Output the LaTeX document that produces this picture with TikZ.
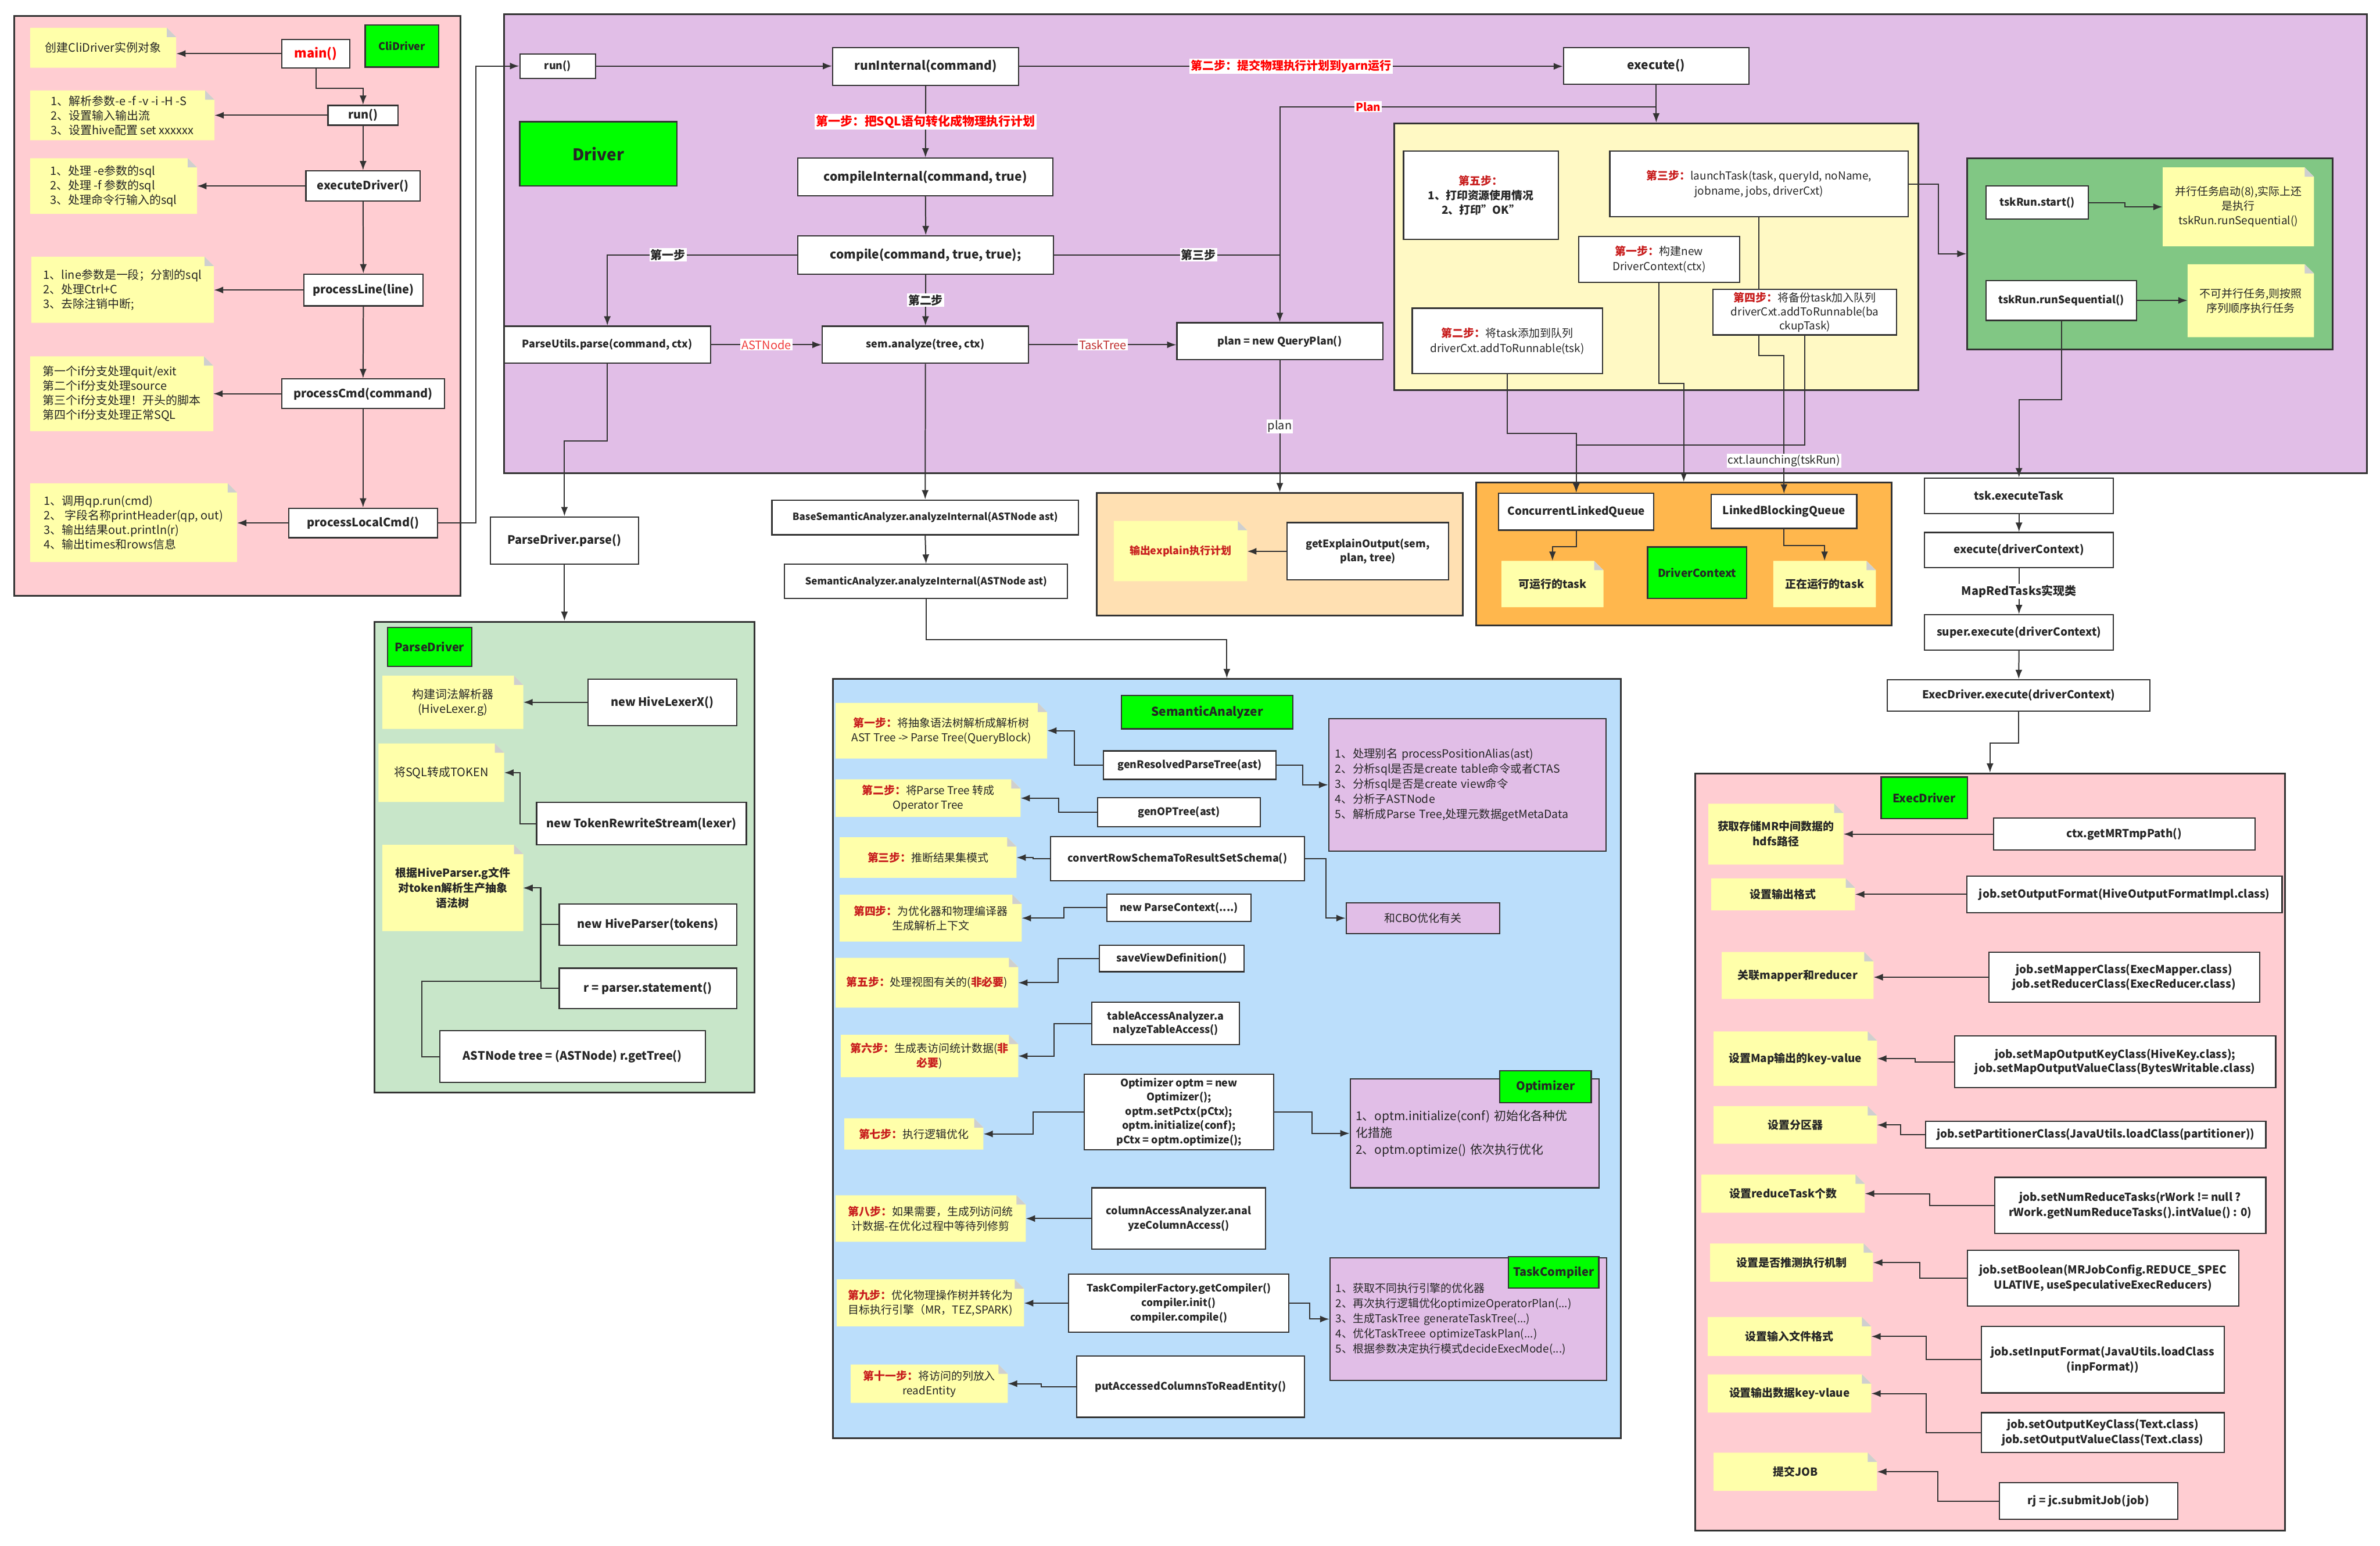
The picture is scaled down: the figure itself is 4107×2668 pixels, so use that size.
\documentclass[tikz,border=0pt]{standalone}
\usepackage{fontspec}
\setmainfont{Noto Sans CJK SC}
\usetikzlibrary{arrows.meta,calc}
\pgfdeclarelayer{bg}
\pgfdeclarelayer{mid}
\pgfsetlayers{bg,mid,main}
\definecolor{lc}{HTML}{333333}
\definecolor{pinkc}{HTML}{FFCDD2}
\definecolor{lav}{HTML}{E1BEE7}
\definecolor{pgreen}{HTML}{C8E6C9}
\definecolor{lblue}{HTML}{BBDEFB}
\definecolor{peach}{HTML}{FFE0B2}
\definecolor{orng}{HTML}{FFB74D}
\definecolor{lyel}{HTML}{FFF9C4}
\definecolor{mgreen}{HTML}{81C784}
\definecolor{glabc}{HTML}{00FF00}
\definecolor{ntfillc}{HTML}{FFFFAA}
\definecolor{foldc}{HTML}{CFCFCF}
\definecolor{stepred}{HTML}{C81E1E}
\definecolor{lblred}{HTML}{FF0000}
\definecolor{astred}{HTML}{F03C3C}
\definecolor{txt}{HTML}{262626}
\newcommand\fs[2]{\fontsize{#1}{#2}\selectfont}
\newcommand\stp[1]{\textcolor{stepred}{\bfseries #1}}
\newcommand\bx[7][]{\node[box,#1,minimum width={(#4)*1pt-(#2)*1pt},minimum height={(#5)*1pt-(#3)*1pt}] (#6) at ({((#2)+(#4))/2},{((#3)+(#5))/2}) {#7};}
\newcommand\nt[7][]{%
\fill[ntfillc] (#2,#3) -- ({(#4)-16},#3) -- (#4,{(#3)+16}) -- (#4,#5) -- (#2,#5) -- cycle;
\fill[foldc] ({(#4)-16},#3) -- (#4,{(#3)+16}) -- ({(#4)-16},{(#3)+16}) -- cycle;
\node[ntx,#1,minimum width={(#4)*1pt-(#2)*1pt},minimum height={(#5)*1pt-(#3)*1pt}] (#6) at ({((#2)+(#4))/2},{((#3)+(#5))/2}) {#7};}
\tikzset{
 box/.style={draw=lc,line width=2.2pt,fill=white,inner sep=2pt,align=center,text=txt,font=\fs{19}{24}\bfseries},
 ctr/.style={draw=lc,line width=3pt,inner sep=0pt},
 glab/.style={box,fill=glabc,line width=2.5pt,font=\fs{20}{24}\bfseries},
 ntx/.style={inner sep=2pt,align=center,text=txt,font=\fs{19}{25}},
 cnt/.style={ntx,align=left,font=\fs{20}{25}},
 arr/.style={draw=lc,line width=2pt,-{Latex[length=16pt,width=12pt]}},
 ln/.style={draw=lc,line width=2pt},
 lab/.style={fill=white,inner sep=2pt,text=txt,font=\fs{20}{24}\bfseries},
}
\begin{document}
\begin{tikzpicture}[x=1pt,y=-1pt]
\begin{pgfonlayer}{bg}
\fill[white] (0,0) rectangle (4107,2668);
\bx[ctr,fill=pinkc]{25}{28}{795}{1028}{cliC}{}
\bx[ctr,fill=lav]{870}{25}{4084}{817}{drvC}{}
\bx[ctr,fill=lyel]{2406}{213}{3310}{673}{yelC}{}
\bx[ctr,fill=mgreen]{3395}{273}{4025}{603}{grnC}{}
\bx[ctr,fill=peach]{1893}{851}{2524}{1062}{expC}{}
\bx[ctr,fill=orng]{2547}{833}{3264}{1079}{orgC}{}
\bx[ctr,fill=pgreen]{646}{1073}{1302}{1886}{pdC}{}
\bx[ctr,fill=lblue]{1437}{1172}{2797}{2482}{semC}{}
\bx[ctr,fill=pinkc]{2925}{1335}{3943}{2642}{exC}{}
\end{pgfonlayer}
\useasboundingbox (0,0) rectangle (4107,2668);

% ---------- CliDriver
\bx[glab,font=\fs{18}{22}\bfseries]{630}{43}{757}{116}{cliL}{CliDriver}
\bx[text=lblred,font=\fs{22}{26}\bfseries]{486}{68}{604}{117}{main}{main()}
\bx[font=\fs{20}{24}\bfseries]{566}{182}{687}{216}{run1}{run()}
\bx[font=\fs{20}{24}\bfseries]{528}{295}{725}{347}{exd}{executeDriver()}
\bx[font=\fs{20}{24}\bfseries]{524}{473}{730}{528}{pl}{processLine(line)}
\bx[font=\fs{20}{24}\bfseries]{486}{654}{767}{705}{pc}{processCmd(command)}
\bx[font=\fs{20}{24}\bfseries]{498}{877}{755}{928}{plc}{processLocalCmd()}
\nt[cnt]{52}{48}{304}{117}{c1}{创建CliDriver实例对象}
\nt[cnt]{52}{156}{370}{242}{c2}{1、解析参数-e -f -v -i -H -S\\2、设置输入输出流\\3、设置hive配置 set xxxxxx}
\nt[cnt]{52}{273}{340}{369}{c3}{1、处理 -e参数的sql\\2、处理 -f 参数的sql\\3、处理命令行输入的sql}
\nt[cnt]{54}{443}{369}{557}{c4}{1、line参数是一段；分割的sql\\2、处理Ctrl+C\\3、去除注销中断;}
\nt[cnt]{52}{615}{368}{744}{c5}{第一个if分支处理quit/exit\\第二个if分支处理source\\第三个if分支处理！开头的脚本\\第四个if分支处理正常SQL}
\nt[cnt]{52}{834}{409}{970}{c6}{1、调用qp.run(cmd)\\2、 字段名称printHeader(qp, out)\\3、输出结果out.println(r)\\4、输出times和rows信息}

% ---------- Driver
\bx[glab,font=\fs{28}{32}\bfseries]{897}{210}{1168}{321}{drvL}{Driver}
\bx[font=\fs{18}{22}\bfseries]{897}{93}{1028}{135}{drun}{run()}
\bx[font=\fs{21}{25}\bfseries]{1437}{82}{1758}{147}{ri}{runInternal(command)}
\bx[font=\fs{21}{25}\bfseries]{2698}{82}{3018}{145}{exe}{execute()}
\bx[font=\fs{21}{25}\bfseries]{1377}{273}{1817}{338}{ci}{compileInternal(command, true)}
\bx[font=\fs{21}{25}\bfseries]{1377}{407}{1818}{473}{cp}{compile(command, true, true);}
\bx[font=\fs{18}{22}\bfseries]{870}{563}{1226}{627}{pu}{ParseUtils.parse(command, ctx)}
\bx[font=\fs{18}{22}\bfseries]{1419}{563}{1775}{627}{sa}{sem.analyze(tree, ctx)}
\bx[font=\fs{18}{22}\bfseries]{2031}{557}{2386}{621}{qp}{plan = new QueryPlan()}

\bx[font=\fs{19}{25}\bfseries]{2422}{261}{2689}{413}{y5}{\stp{第五步：}\\1、打印资源使用情况\\2、打印"OK"}
\bx[font=\fs{19}{26}]{2778}{261}{3293}{374}{y3}{\stp{第三步：}launchTask(task, queryId, noName,\\jobname, jobs, driverCxt)}
\bx[font=\fs{19}{26}]{2724}{408}{3002}{487}{y1}{\stp{第一步：}构建new\\DriverContext(ctx)}
\bx[font=\fs{19}{24}]{2956}{499}{3273}{578}{y4}{\stp{第四步：}将备份task加入队列\\driverCxt.addToRunnable(ba\\ckupTask)}
\bx[font=\fs{19}{26}]{2437}{532}{2765}{645}{y2}{\stp{第二步：}将task添加到队列\\driverCxt.addToRunnable(tsk)}

\bx[font=\fs{18}{22}\bfseries]{3427}{321}{3604}{378}{tst}{tskRun.start()}
\bx[font=\fs{18}{22}\bfseries]{3427}{484}{3687}{553}{trs}{tskRun.runSequential()}
\nt{3732}{289}{3993}{425}{n1}{并行任务启动(8),实际上还\\是执行\\tskRun.runSequential()}
\nt{3775}{456}{3993}{582}{n2}{不可并行任务,则按照\\序列顺序执行任务}

% ---------- queues / explain
\bx[font=\fs{19}{23}\bfseries]{2586}{851}{2854}{915}{clq}{ConcurrentLinkedQueue}
\bx[font=\fs{19}{23}\bfseries]{2953}{853}{3204}{912}{lbq}{LinkedBlockingQueue}
\nt[font=\fs{19}{24}\bfseries]{2591}{968}{2767}{1048}{nq1}{可运行的task}
\bx[glab,font=\fs{19}{23}\bfseries]{2843}{944}{3014}{1033}{dctx}{DriverContext}
\nt[font=\fs{19}{24}\bfseries]{3060}{968}{3237}{1048}{nq2}{正在运行的task}
\nt[text=stepred,font=\fs{18}{22}\bfseries]{1922}{899}{2152}{1003}{nex}{输出explain执行计划}
\bx[font=\fs{18}{24}\bfseries]{2221}{902}{2500}{1001}{gex}{getExplainOutput(sem,\\plan, tree)}
\bx[font=\fs{17}{21}\bfseries]{1332}{863}{1861}{923}{bsa}{BaseSemanticAnalyzer.analyzeInternal(ASTNode ast)}
\bx[font=\fs{17}{21}\bfseries]{1354}{974}{1842}{1033}{sema}{SemanticAnalyzer.analyzeInternal(ASTNode ast)}

% ---------- right column
\bx[font=\fs{19}{23}\bfseries]{3321}{825}{3647}{886}{tet}{tsk.executeTask}
\bx[font=\fs{19}{23}\bfseries]{3321}{919}{3647}{980}{exc}{execute(driverContext)}
\bx[font=\fs{19}{23}\bfseries]{3321}{1061}{3647}{1122}{sup}{super.execute(driverContext)}
\bx[font=\fs{19}{23}\bfseries]{3257}{1173}{3710}{1227}{edx}{ExecDriver.execute(driverContext)}

% ---------- ParseDriver
\bx[font=\fs{20}{24}\bfseries]{846}{892}{1102}{974}{pdp}{ParseDriver.parse()}
\bx[glab]{669}{1083}{814}{1150}{pdL}{ParseDriver}
\nt[font=\fs{20}{25}]{660}{1166}{903}{1258}{pn1}{构建词法解析器\\(HiveLexer.g)}
\bx[font=\fs{20}{24}\bfseries]{1015}{1172}{1271}{1252}{lex}{new HiveLexerX()}
\nt[font=\fs{20}{25}]{653}{1283}{870}{1384}{pn2}{将SQL转成TOKEN}
\bx[font=\fs{20}{24}\bfseries]{926}{1385}{1288}{1458}{trs2}{new TokenRewriteStream(lexer)}
\nt[font=\fs{19}{26}\bfseries]{660}{1458}{903}{1607}{pn3}{根据HiveParser.g文件\\对token解析生产抽象\\语法树}
\bx[font=\fs{20}{24}\bfseries]{965}{1560}{1271}{1631}{hp}{new HiveParser(tokens)}
\bx[font=\fs{20}{24}\bfseries]{965}{1671}{1271}{1741}{rps}{r = parser.statement()}
\bx[font=\fs{20}{24}\bfseries]{759}{1779}{1217}{1868}{astn}{ASTNode tree = (ASTNode) r.getTree()}

% ---------- SemanticAnalyzer
\bx[glab,font=\fs{21}{25}\bfseries]{1935}{1200}{2231}{1258}{semL}{SemanticAnalyzer}
\bx[font=\fs{18}{23}\bfseries]{1904}{1296}{2202}{1345}{grpt}{genResolvedParseTree(ast)}
\bx[font=\fs{18}{23}\bfseries]{1894}{1377}{2175}{1427}{gop}{genOPTree(ast)}
\bx[font=\fs{18}{23}\bfseries]{1813}{1444}{2251}{1520}{crs}{convertRowSchemaToResultSetSchema()}
\bx[font=\fs{18}{23}\bfseries]{1910}{1543}{2159}{1590}{npc}{new ParseContext(....)}
\bx[font=\fs{18}{23}\bfseries]{1897}{1631}{2147}{1677}{svd}{saveViewDefinition()}
\bx[font=\fs{18}{24}\bfseries]{1884}{1730}{2139}{1803}{tac}{tableAccessAnalyzer.a\\nalyzeTableAccess()}
\bx[font=\fs{18}{24.5}\bfseries]{1871}{1854}{2198}{1984}{opt}{Optimizer optm = new\\Optimizer();\\optm.setPctx(pCtx);\\optm.initialize(conf);\\pCtx = optm.optimize();}
\bx[font=\fs{18}{25}\bfseries]{1884}{2050}{2184}{2156}{caa}{columnAccessAnalyzer.anal\\yzeColumnAccess()}
\bx[font=\fs{17.5}{25}\bfseries]{1844}{2199}{2224}{2299}{tcf}{TaskCompilerFactory.getCompiler()\\compiler.init()\\compiler.compile()}
\bx[font=\fs{18}{23}\bfseries]{1858}{2340}{2251}{2446}{pac}{putAccessedColumnsToReadEntity()}
\bx[fill=lav,align=left,text width=456pt,font=\fs{19.5}{26}]{2293}{1240}{2771}{1469}{lst}{1、处理别名 processPositionAlias(ast)\\2、分析sql是否是create table命令或者CTAS\\3、分析sql是否是create view命令\\4、分析子ASTNode\\5、解析成Parse Tree,处理元数据getMetaData}
\bx[fill=lav,font=\fs{19}{23}]{2323}{1558}{2588}{1611}{cbo}{和CBO优化有关}
\bx[fill=lav,align=left,text width=410pt,font=\fs{21}{29}]{2330}{1862}{2759}{2050}{optp}{1、optm.initialize(conf) 初始化各种优\\化措施\\2、optm.optimize() 依次执行优化}
\bx[glab]{2588}{1848}{2746}{1903}{optL}{Optimizer}
\bx[fill=lav,align=left,text width=457pt,font=\fs{19}{26}]{2295}{2171}{2772}{2382}{tcp}{1、获取不同执行引擎的优化器\\2、再次执行逻辑优化optimizeOperatorPlan(...)\\3、生成TaskTree generateTaskTree(...)\\4、优化TaskTreee optimizeTaskPlan(...)\\5、根据参数决定执行模式decideExecMode(...)}
\bx[glab]{2603}{2169}{2759}{2223}{tcL}{TaskCompiler}
\nt{1442}{1213}{1807}{1309}{s1}{\stp{第一步：}将抽象语法树解析成解析树\\AST Tree -> Parse Tree(QueryBlock)}
\nt{1442}{1345}{1761}{1410}{s2}{\stp{第二步：}将Parse Tree 转成\\Operator Tree}
\nt{1449}{1445}{1754}{1515}{s3}{\stp{第三步：}推断结果集模式}
\nt{1449}{1544}{1763}{1625}{s4}{\stp{第四步：}为优化器和物理编译器\\生成解析上下文}
\nt{1442}{1653}{1757}{1739}{s5}{\stp{第五步：}处理视图有关的(\stp{非必要})}
\nt{1451}{1786}{1757}{1859}{s6}{\stp{第六步：}生成表访问统计数据(\stp{非}\\\stp{必要})}
\nt{1457}{1930}{1697}{1984}{s7}{\stp{第七步：}执行逻辑优化}
\nt{1442}{2063}{1770}{2143}{s8}{\stp{第八步：}如果需要，生成列访问统\\计数据-在优化过程中等待列修剪}
\nt{1444}{2208}{1767}{2289}{s9}{\stp{第九步：}优化物理操作树并转化为\\目标执行引擎（MR，TEZ,SPARK)}
\nt{1468}{2355}{1739}{2421}{s11}{\stp{第十一步：}将访问的列放入\\readEntity}

% ---------- ExecDriver
\bx[glab]{3246}{1341}{3395}{1413}{exL}{ExecDriver}
\nt[font=\fs{19}{26}\bfseries]{2948}{1387}{3181}{1492}{e1}{获取存储MR中间数据的\\hdfs路径}
\nt[font=\fs{19}{26}\bfseries]{2953}{1516}{3201}{1571}{e2}{设置输出格式}
\nt[font=\fs{19}{26}\bfseries]{2971}{1643}{3233}{1724}{e3}{关联mapper和reducer}
\nt[font=\fs{19}{26}\bfseries]{2957}{1780}{3239}{1874}{e4}{设置Map输出的key-value}
\nt[font=\fs{19}{26}\bfseries]{2957}{1909}{3239}{1974}{e5}{设置分区器}
\nt[font=\fs{19}{26}\bfseries]{2936}{2027}{3218}{2093}{e6}{设置reduceTask个数}
\nt[font=\fs{19}{26}\bfseries]{2951}{2146}{3232}{2212}{e7}{设置是否推测执行机制}
\nt[font=\fs{19}{26}\bfseries]{2947}{2273}{3229}{2340}{e8}{设置输入文件格式}
\nt[font=\fs{19}{26}\bfseries]{2947}{2372}{3229}{2438}{e9}{设置输出数据key-vlaue}
\nt[font=\fs{19}{26}\bfseries]{2957}{2507}{3239}{2573}{e10}{提交JOB}
\bx[font=\fs{19}{25}\bfseries]{3440}{1412}{3891}{1467}{eb1}{ctx.getMRTmpPath()}
\bx[font=\fs{19}{25}\bfseries]{3394}{1512}{3938}{1575}{eb2}{job.setOutputFormat(HiveOutputFormatImpl.class)}
\bx[font=\fs{19}{25}\bfseries]{3432}{1643}{3899}{1730}{eb3}{job.setMapperClass(ExecMapper.class)\\job.setReducerClass(ExecReducer.class)}
\bx[font=\fs{19}{25}\bfseries]{3373}{1788}{3927}{1877}{eb4}{job.setMapOutputKeyClass(HiveKey.class);\\job.setMapOutputValueClass(BytesWritable.class)}
\bx[font=\fs{19}{25}\bfseries]{3323}{1935}{3910}{1981}{eb5}{job.setPartitionerClass(JavaUtils.loadClass(partitioner))}
\bx[font=\fs{19}{26}\bfseries]{3442}{2032}{3910}{2129}{eb6}{job.setNumReduceTasks(rWork != null ?\\rWork.getNumReduceTasks().intValue() : 0)}
\bx[font=\fs{19}{26}\bfseries]{3395}{2158}{3863}{2254}{eb7}{job.setBoolean(MRJobConfig.REDUCE\_SPEC\\ULATIVE, useSpeculativeExecReducers)}
\bx[font=\fs{19}{26}\bfseries]{3419}{2289}{3838}{2404}{eb8}{job.setInputFormat(JavaUtils.loadClass\\(inpFormat))}
\bx[font=\fs{19}{26}\bfseries]{3419}{2438}{3838}{2507}{eb9}{job.setOutputKeyClass(Text.class)\\job.setOutputValueClass(Text.class)}
\bx[font=\fs{19}{25}\bfseries]{3450}{2559}{3758}{2622}{eb10}{rj = jc.submitJob(job)}

% ---------- connectors
\begin{pgfonlayer}{mid}
\draw[arr] (main.west) -- (main.west -| c1.east);
\draw[arr] (main.south) -- ++(0,34) -| (run1.north);
\draw[arr] (run1.west) -- (run1.west -| c2.east);
\draw[arr] (run1.south) -- (exd.north);
\draw[arr] (exd.west) -- (exd.west -| c3.east);
\draw[arr] (exd.south) -- (pl.north);
\draw[arr] (pl.west) -- (pl.west -| c4.east);
\draw[arr] (pl.south) -- (pc.north);
\draw[arr] (pc.west) -- (pc.west -| c5.east);
\draw[arr] (pc.south) -- (plc.north);
\draw[arr] (plc.west) -- (plc.west -| c6.east);
\draw[arr] (plc.east) -- ++(65,0) |- (drun.west);

\draw[arr] (drun.east) -- (drun.east -| ri.west);
\draw[arr] (ri.east) -- node[lab,text=lblred]{第二步：提交物理执行计划到yarn运行} (ri.east -| exe.west);
\draw[arr] (ri.south) -- node[lab,text=lblred,font=\fs{21}{25}\bfseries]{第一步：把SQL语句转化成物理执行计划} (ci.north);
\draw[arr] (ci.south) -- (cp.north);
\draw[arr] (cp.west) -| node[lab,pos=0.34]{第一步} (pu.north);
\draw[arr] (cp.south) -- node[lab]{第二步} (sa.north);
\draw[arr] (cp.east) -| node[lab,pos=0.32]{第三步} (qp.north);
\coordinate (pk) at ($(exe.south)+(0,38)$);
\draw[ln] (qp.north |- cp.east) -- (qp.north |- pk) -- node[lab,pos=0.235,text=lblred,font=\fs{19}{23}\bfseries]{Plan} (pk);
\draw[arr] (exe.south) -- (yelC.north);
\draw[arr] (pu.east) -- node[lab,text=astred,font=\fs{20}{24}]{ASTNode} (sa.west);
\draw[arr] (sa.east) -- node[lab,text=astred!80!black,font=\fs{20}{24}]{TaskTree} (sa.east -| qp.west);
\draw[arr] (qp.south) -- node[lab,font=\fs{20}{24}]{plan} (expC.north);
\draw[arr] (pu.south) -- ++(0,133) -| (pdp.north);
\draw[arr] (sa.south) -- (bsa.north);
\draw[arr] (bsa.south) -- (sema.north);
\draw[arr] (sema.south) -- ++(0,70) -| (semC.north);

\draw[arr] (y3.east) -- ++(51,0) |- (grnC.west);
\draw[arr] (tst.east) -- ++(62,0) |- (n1.west);
\draw[arr] (trs.east) -- (trs.east -| n2.west);
\draw[arr] (trs.south) -- ++(0,136) -| (tet.north);
\draw[arr] (y2.south) -- ++(0,102) -| (clq.north);
\draw[arr] (y4.south) -- ++(0,189) -| (clq.north);
\draw[arr] (y3.south) -- ++(0,239) -| node[lab,pos=0.88,font=\fs{19}{23}]{cxt.launching(tskRun)} (lbq.north);
\draw[arr] (y1.south) -- ++(0,174) -| (orgC.north);
\draw[arr] (clq.south) -- ++(0,27) -| (nq1.north);
\draw[arr] (lbq.south) -- ++(0,28) -| (nq2.north);
\draw[arr] (gex.west) -- (gex.west -| nex.east);

\draw[arr] (tet.south) -- (exc.north);
\draw[arr] (exc.south) -- node[lab]{MapRedTasks实现类} (sup.north);
\draw[arr] (sup.south) -- (edx.north);
\draw[arr] (edx.south) -- ++(0,54) -| (exC.north);

\draw[arr] (pdp.south) -- (pdC.north);
\draw[arr] (lex.west) -- (lex.west -| pn1.east);
\draw[arr] (trs2.west) -- ++(-28,0) |- (pn2.east);
\draw[arr] (hp.west) -- ++(-31,0) |- (pn3.east);
\draw[arr] (rps.west) -- ++(-30,0) |- (pn3.east);
\draw[arr] (astn.west) -- ++(-30,0) -- ++(0,-130) -- ++(205,0) |- (pn3.east);

\draw[arr] (grpt.west) -- ++(-49,0) |- (s1.east);
\draw[arr] (grpt.east) -- ++(45,0) |- (lst.west);
\draw[arr] (gop.west) -- ++(-66,0) |- (s2.east);
\draw[arr] (crs.west) -- ++(-29,0) |- (s3.east);
\draw[arr] (crs.east) -- ++(36,0) |- (cbo.west);
\draw[arr] (npc.west) -- ++(-73,0) |- (s4.east);
\draw[arr] (svd.west) -- ++(-70,0) |- (s5.east);
\draw[arr] (tac.west) -- ++(-64,0) |- (s6.east);
\draw[arr] (opt.west) -- ++(-87,0) |- (s7.east);
\draw[arr] (opt.east) -- ++(65,0) |- (optp.west);
\draw[arr] (caa.west) -- (caa.west -| s8.east);
\draw[arr] (tcf.west) -- (tcf.west -| s9.east);
\draw[arr] (tcf.east) -- ++(35,0) |- (tcp.west);
\draw[arr] (pac.west) -- ++(-60,0) |- (s11.east);

\draw[arr] (eb1.west) -- (eb1.west -| e1.east);
\draw[arr] (eb2.west) -- (eb2.west -| e2.east);
\draw[arr] (eb3.west) -- (eb3.west -| e3.east);
\draw[arr] (eb4.west) -- ++(-67,0) |- (e4.east);
\draw[arr] (eb5.west) -- ++(-42,0) |- (e5.east);
\draw[arr] (eb6.west) -- ++(-111,0) |- (e6.east);
\draw[arr] (eb7.west) -- ++(-81,0) |- (e7.east);
\draw[arr] (eb8.west) -- ++(-94,0) |- (e8.east);
\draw[arr] (eb9.west) -- ++(-94,0) |- (e9.east);
\draw[arr] (eb10.west) -- ++(-105,0) |- (e10.east);
\end{pgfonlayer}
\end{tikzpicture}
\end{document}
